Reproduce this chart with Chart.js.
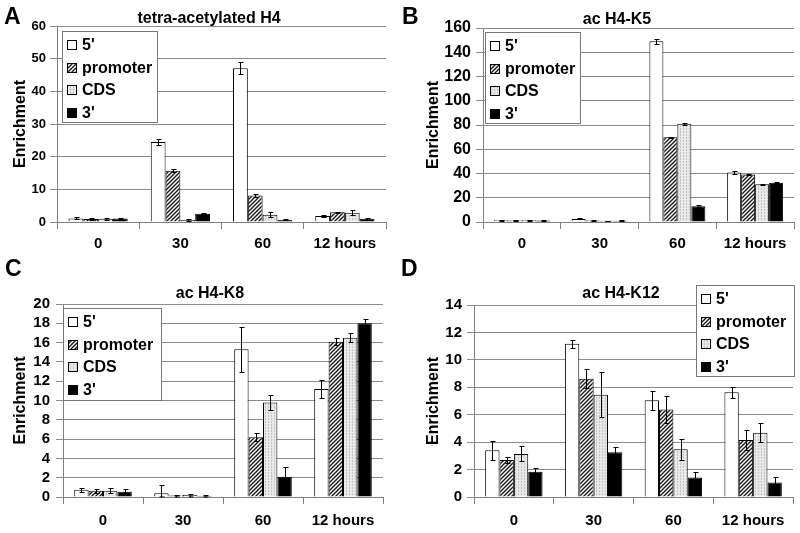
<!DOCTYPE html>
<html>
<head>
<meta charset="utf-8">
<script src="https://cdn.jsdelivr.net/npm/chart.js@4.4.1/dist/chart.umd.min.js"></script>
<style>
  body { margin: 0; background: #fff; width: 800px; height: 533px; position: relative; overflow: hidden;
         font-family: "Liberation Sans", Arial, sans-serif; }
  canvas { position: absolute; }
  .letter { position: absolute; font-size: 23px; font-weight: bold; line-height: 1; color: #000; }
</style>
</head>
<body>
<canvas id="chartA" width="400" height="260" style="left:0;top:0"></canvas>
<canvas id="chartB" width="400" height="260" style="left:400px;top:0"></canvas>
<canvas id="chartC" width="400" height="273" style="left:0;top:260px"></canvas>
<canvas id="chartD" width="400" height="273" style="left:400px;top:260px"></canvas>
<div class="letter" style="left:4px;top:5px">A</div>
<div class="letter" style="left:402px;top:5px">B</div>
<div class="letter" style="left:5px;top:257px">C</div>
<div class="letter" style="left:401px;top:257px">D</div>
<script>
const timepoints = ['0', '30', '60', '12 hours'];
const regions = ["5'", 'promoter', 'CDS', "3'"];

// rows: 5', promoter, CDS, 3' ; columns follow timepoints
const tetraH4 = [
  [1.1, 24.5, 47.1, 1.8],
  [0.9, 15.7, 8.1, 3.0],
  [1.0, 0.6, 2.2, 2.8],
  [1.1, 2.5, 0.7, 1.0]
];
const tetraH4Err = [
  [0.3, 1.0, 1.9, 0.3],
  [0.2, 0.4, 0.4, 0.2],
  [0.3, 0.4, 0.8, 0.8],
  [0.2, 0.2, 0.2, 0.3]
];
const tetraH4Ticks = [0, 10, 20, 30, 40, 50, 60];

const acK5 = [
  [1.5, 2.5, 149, 40.8],
  [1.2, 1.2, 70, 39.2],
  [1.5, 1.0, 81, 31.2],
  [1.3, 1.0, 13, 32.3]
];
const acK5Err = [
  [0.3, 0.4, 2.0, 1.2],
  [0.2, 0.2, 0.5, 0.8],
  [0.3, 0.2, 0.7, 0.5],
  [0.3, 0.3, 1.0, 0.5]
];
const acK5Ticks = [0, 20, 40, 60, 80, 100, 120, 140, 160];

const acK8 = [
  [0.76, 0.4, 15.3, 11.2],
  [0.65, 0.15, 6.2, 16.1],
  [0.65, 0.2, 9.8, 16.5],
  [0.55, 0.1, 2.1, 18.0]
];
const acK8Err = [
  [0.2, 0.85, 2.3, 0.9],
  [0.2, 0.1, 0.4, 0.4],
  [0.25, 0.15, 0.75, 0.45],
  [0.3, 0.15, 1.0, 0.45]
];
const acK8Ticks = [0, 2, 4, 6, 8, 10, 12, 14, 16, 18, 20];

const acK12 = [
  [3.4, 11.17, 7.06, 7.64],
  [2.7, 8.63, 6.38, 4.16],
  [3.14, 7.45, 3.48, 4.69],
  [1.84, 3.26, 1.43, 1.06]
];
const acK12Err = [
  [0.7, 0.3, 0.7, 0.4],
  [0.25, 0.7, 1.0, 0.7],
  [0.55, 1.65, 0.75, 0.7],
  [0.25, 0.4, 0.4, 0.4]
];
const acK12Ticks = [0, 2, 4, 6, 8, 10, 12, 14];

const FONT = '"Liberation Sans", Arial, sans-serif';
Chart.defaults.font.family = FONT;
Chart.defaults.color = '#000';

function makePattern(size, paint) {
  const tile = document.createElement('canvas');
  tile.width = size; tile.height = size;
  const g = tile.getContext('2d');
  paint(g);
  return g.createPattern(tile, 'repeat');
}

const hatch = makePattern(4, g => {
  g.fillStyle = '#fff';
  g.fillRect(0, 0, 4, 4);
  g.strokeStyle = '#1a1a1a';
  g.lineWidth = 1.4;
  g.beginPath();
  g.moveTo(0, 4); g.lineTo(4, 0);
  g.moveTo(-1, 1); g.lineTo(1, -1);
  g.moveTo(3, 5); g.lineTo(5, 3);
  g.stroke();
});
const dotted = makePattern(3, g => {
  g.fillStyle = '#e8e8e8';
  g.fillRect(0, 0, 3, 3);
  g.fillStyle = '#c4c4c4';
  g.fillRect(1, 0, 1, 1);
  g.fillRect(1, 2, 1, 1);
});
const fills = ['#ffffff', hatch, dotted, '#000000'];

// error bars, panel title and boxed legend
function decorations(values, errs, title, lay) {
  return {
    id: 'decorations',
    afterDatasetsDraw(chart) {
      const ctx = chart.ctx;
      const y = chart.scales.y;
      ctx.save();
      ctx.strokeStyle = '#000';
      ctx.lineWidth = 1;
      errs.forEach((row, i) => {
        const meta = chart.getDatasetMeta(i);
        row.forEach((e, j) => {
          const v = values[i][j];
          const x = Math.round(meta.data[j].x) + 0.5;
          const top = Math.round(y.getPixelForValue(v + e)) + 0.5;
          const bot = Math.min(Math.round(y.getPixelForValue(v - e)) + 0.5, chart.chartArea.bottom);
          ctx.beginPath();
          ctx.moveTo(x, top); ctx.lineTo(x, bot);
          ctx.moveTo(x - 2, top); ctx.lineTo(x + 3, top);
          ctx.moveTo(x - 2, bot); ctx.lineTo(x + 3, bot);
          ctx.stroke();
        });
      });
      ctx.restore();
    },
    afterDraw(chart) {
      const ctx = chart.ctx;
      ctx.save();
      ctx.fillStyle = '#000';
      ctx.font = 'bold 16px ' + FONT;
      ctx.textAlign = 'center';
      ctx.textBaseline = 'middle';
      ctx.fillText(title, lay.titleX, lay.titleY);

      const L = lay.legend;
      ctx.fillStyle = '#fff';
      ctx.fillRect(L.x, L.y, L.w, L.h);
      ctx.strokeStyle = '#777';
      ctx.lineWidth = 1;
      ctx.strokeRect(L.x + 0.5, L.y + 0.5, L.w, L.h);
      ctx.textAlign = 'left';
      chart.data.datasets.forEach((ds, i) => {
        const cy = Math.round(L.y + 14 + i * 22.5);
        ctx.fillStyle = ds.backgroundColor;
        ctx.fillRect(L.x + 5, cy - 5, 10, 10);
        ctx.strokeStyle = '#000';
        ctx.strokeRect(L.x + 5.5, cy - 4.5, 9, 9);
        ctx.fillStyle = '#000';
        ctx.fillText(ds.label, L.x + 20, cy + 1);
      });
      ctx.restore();
    }
  };
}

function buildChart(id, values, errs, ticks, title, lay) {
  const datasets = regions.map((name, i) => ({
    label: name,
    data: values[i],
    backgroundColor: fills[i],
    borderColor: '#000',
    borderWidth: 1,
    categoryPercentage: 0.72,
    barPercentage: 1.0
  }));
  return new Chart(document.getElementById(id), {
    type: 'bar',
    data: { labels: timepoints, datasets: datasets },
    options: {
      responsive: false,
      animation: false,
      layout: { padding: { top: lay.top, right: lay.right, bottom: 0, left: 0 } },
      plugins: {
        legend: { display: false },
        tooltip: { enabled: false },
        title: { display: false }
      },
      scales: {
        x: {
          grid: { display: true, drawOnChartArea: false, offset: true, tickLength: 7, color: '#808080' },
          border: { color: '#808080' },
          ticks: { font: { size: 15, weight: 'bold' }, color: '#000', padding: lay.xPad, maxRotation: 0 },
          afterFit: s => { s.height = lay.xh; }
        },
        y: {
          min: ticks[0],
          max: ticks[ticks.length - 1],
          ticks: {
            stepSize: ticks[1] - ticks[0], autoSkip: false,
            font: { size: lay.tickSize, weight: 'bold' }, color: '#000', padding: lay.yPad
          },
          grid: { color: '#8c8c8c', tickLength: 7 },
          border: { color: '#808080' },
          title: {
            display: true, text: 'Enrichment', color: '#000',
            font: { size: 16, weight: 'bold' },
            padding: { top: lay.yTitlePad, bottom: 0 }
          },
          afterFit: s => { s.width = lay.yw; }
        }
      }
    },
    plugins: [decorations(values, errs, title, lay)]
  });
}

buildChart('chartA', tetraH4, tetraH4Err, tetraH4Ticks, 'tetra-acetylated H4', {
  top: 26, right: 14, yw: 57, xh: 38, xPad: 6, yPad: 4, tickSize: 13, yTitlePad: 11,
  titleX: 209, titleY: 19, legend: { x: 62, y: 31, w: 95, h: 91 }
});
buildChart('chartB', acK5, acK5Err, acK5Ticks, 'ac H4-K5', {
  top: 28, right: 6, yw: 83, xh: 38, xPad: 6, yPad: 5, tickSize: 16, yTitlePad: 24,
  titleX: 217, titleY: 20, legend: { x: 85, y: 32, w: 95, h: 91 }
});
buildChart('chartC', acK8, acK8Err, acK8Ticks, 'ac H4-K8', {
  top: 44, right: 17, yw: 63, xh: 36, xPad: 8, yPad: 6, tickSize: 15, yTitlePad: 11,
  titleX: 210, titleY: 34, legend: { x: 63, y: 48, w: 98, h: 92 }
});
buildChart('chartD', acK12, acK12Err, acK12Ticks, 'ac H4-K12', {
  top: 45, right: 7, yw: 74, xh: 36, xPad: 8, yPad: 5, tickSize: 15, yTitlePad: 24,
  titleX: 221, titleY: 34, legend: { x: 296, y: 25, w: 98, h: 91 }
});
</script>
</body>
</html>
